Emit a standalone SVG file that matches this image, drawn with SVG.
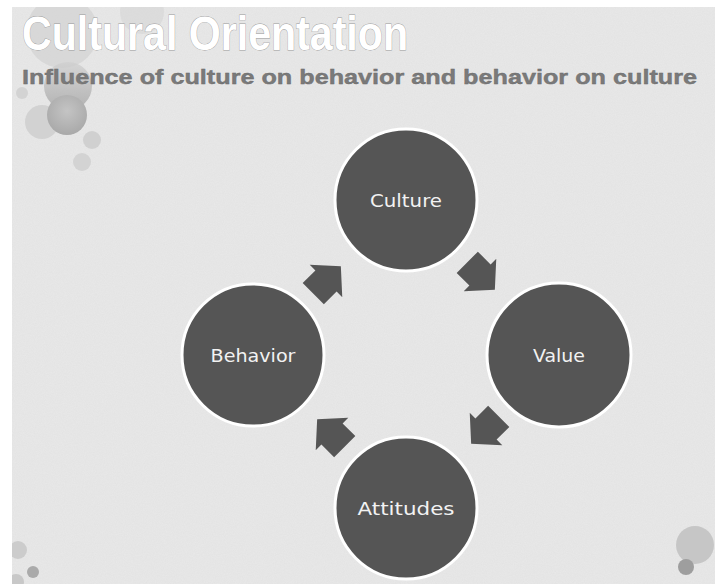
<svg xmlns="http://www.w3.org/2000/svg" width="715" height="584" viewBox="0 0 715 584">
  <defs>
    <filter id="tex" x="0" y="0" width="100%" height="100%">
      <feTurbulence type="fractalNoise" baseFrequency="0.9" numOctaves="2" seed="3" result="n"/>
      <feColorMatrix type="matrix" values="0 0 0 0 0.55  0 0 0 0 0.55  0 0 0 0 0.55  0 0 0 0.35 -0.05" in="n"/>
    </filter>
    <radialGradient id="bub" cx="50%" cy="40%" r="60%">
      <stop offset="0" stop-color="#c4c4c4"/>
      <stop offset="1" stop-color="#a9a9a9"/>
    </radialGradient>
    <linearGradient id="bub2" x1="0" y1="0" x2="0" y2="1">
      <stop offset="0" stop-color="#cfcfcf"/>
      <stop offset="1" stop-color="#9c9c9c"/>
    </linearGradient>
    <path id="arr" d="M -18 -15 L 0 -15 L 0 -23 L 21 0 L 0 23 L 0 15 L -18 15 Z"/>
  </defs>
  <style>
    .node circle { fill: #555555; stroke: #ffffff; stroke-width: 3; }
    .node text { font-family: "DejaVu Sans", sans-serif; font-size: 18px; fill: #f2f2f2; text-anchor: middle; }
    .arrow { fill: #555555; }
    .title { font-family: "Liberation Sans", Arial, sans-serif; font-weight: bold; }
  </style>
  <rect x="0" y="0" width="715" height="584" fill="#ffffff"/>
  <rect x="12" y="7" width="703" height="577" fill="#e8e8e8"/>
  <rect x="12" y="7" width="703" height="577" filter="url(#tex)" opacity="0.5"/>

  <g id="bubbles">
    <circle cx="62" cy="32" r="36" fill="#cfcfcf" opacity="0.6"/>
    <circle cx="142" cy="12" r="22" fill="#d2d2d2" opacity="0.5"/>
    <circle cx="68" cy="86" r="24" fill="url(#bub2)" opacity="0.7"/>
    <circle cx="42" cy="122" r="17" fill="#d2d2d2"/>
    <circle cx="67" cy="115" r="20" fill="url(#bub)"/>
    <circle cx="92" cy="140" r="9" fill="#d0d0d0"/>
    <circle cx="82" cy="162" r="9" fill="#d3d3d3"/>
    <circle cx="22" cy="93" r="6" fill="#d3d3d3"/>
    <circle cx="18" cy="550" r="9" fill="#cccccc"/>
    <circle cx="33" cy="572" r="6" fill="#aaaaaa"/>
    <circle cx="16" cy="582" r="8" fill="#c8c8c8"/>
    <circle cx="695" cy="545" r="19" fill="#c6c6c6"/>
    <circle cx="686" cy="567" r="8" fill="#9e9e9e"/>
    <rect x="0" y="0" width="12" height="584" fill="#ffffff"/>
    <rect x="0" y="0" width="715" height="7" fill="#ffffff"/>
  </g>

  <g id="titles">
    <text class="title" x="22" y="50" font-size="48" textLength="386" lengthAdjust="spacingAndGlyphs" fill="#ffffff" stroke="#9a9a9a" stroke-width="0.8" paint-order="stroke">Cultural Orientation</text>
    <text class="title" x="22" y="84" font-size="21" textLength="675" lengthAdjust="spacingAndGlyphs" fill="#7a7a7a" stroke="#6a6a6a" stroke-width="0.4">Influence of culture on behavior and behavior on culture</text>
  </g>

  <g id="connectors">
    <use href="#arr" class="arrow" transform="translate(480 275) rotate(45)"/>
    <use href="#arr" class="arrow" transform="translate(486 429) rotate(135)"/>
    <use href="#arr" class="arrow" transform="translate(332 434) rotate(225)"/>
    <use href="#arr" class="arrow" transform="translate(326 281) rotate(-45)"/>
  </g>

  <g id="node-culture" class="node">
    <circle cx="406" cy="200" r="71"/>
    <text x="406" y="207" textLength="72" lengthAdjust="spacingAndGlyphs">Culture</text>
  </g>
  <g id="node-value" class="node">
    <circle cx="559" cy="355" r="72"/>
    <text x="559" y="362" textLength="52" lengthAdjust="spacingAndGlyphs">Value</text>
  </g>
  <g id="node-attitudes" class="node">
    <circle cx="406" cy="508" r="71"/>
    <text x="406" y="515" textLength="97" lengthAdjust="spacingAndGlyphs">Attitudes</text>
  </g>
  <g id="node-behavior" class="node">
    <circle cx="253" cy="355" r="71"/>
    <text x="253" y="362" textLength="85" lengthAdjust="spacingAndGlyphs">Behavior</text>
  </g>
</svg>
